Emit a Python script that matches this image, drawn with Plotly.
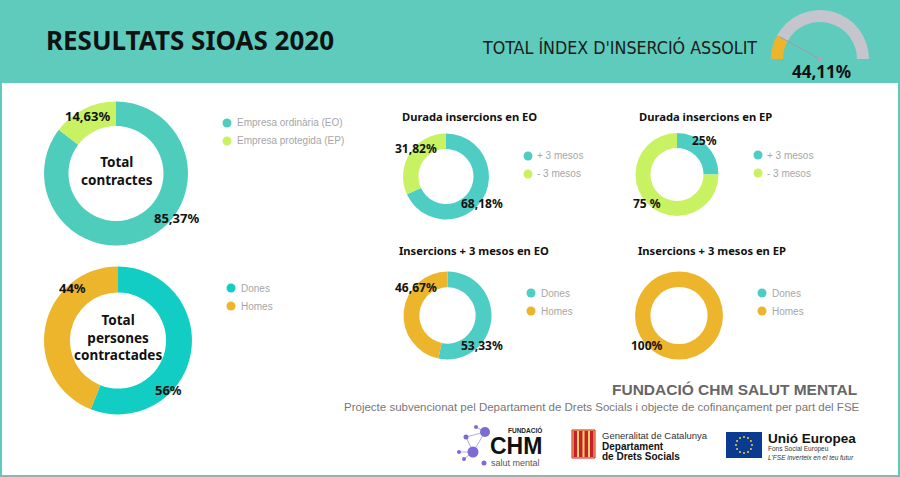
import math
import plotly.graph_objects as go

W, H = 900, 477

# ---- data read from the infographic ----
contract_labels = ["Empresa ordinària (EO)", "Empresa protegida (EP)"]
contract_values = [85.37, 14.63]

people_labels = ["Dones", "Homes"]
people_values = [56, 44]

dur_labels = ["+ 3 mesos", "- 3 mesos"]
dur_eo_values = [68.18, 31.82]
dur_ep_values = [25, 75]

ins_labels = ["Dones", "Homes"]
ins_eo_values = [53.33, 46.67]
ins_ep_values = [0, 100]

gauge_value = 44.11
gauge_max = 275

# ---- colours ----
HDR = "#5ECBBC"
EO_TEAL = "#4ECDBC"
LIME = "#C9F263"
CYAN = "#12CDC3"
GOLD = "#EDB52B"
TEAL2 = "#4ECDC4"
GAUGE_GREY = "#C5C5CE"
LEG_GREY = "#A6A6A6"

F_TXT = "Noto Sans"
F_ARIAL = "Liberation Sans"
F_NARROW = "DejaVu Sans Condensed, Roboto"


def px(x):
    return x / W


def py(y):
    return 1 - y / H


def pct(v, sep=""):
    if float(v).is_integer():
        s = str(int(v))
    else:
        s = f"{v:.2f}".replace(".", ",")
    return s + sep + "%"


def donut(labels, values, colors, cx, cy, r, hole):
    return go.Pie(
        labels=labels, values=values,
        marker=dict(colors=colors),
        hole=hole, sort=False, direction="clockwise", rotation=0,
        textinfo="none", hoverinfo="label+percent", showlegend=False,
        domain=dict(x=[px(cx - r), px(cx + r)], y=[py(cy + r), py(cy - r)]),
    )


annotations = []
shapes = []


def txt(x, y, text, size, color="#111111", weight="normal", xanchor="center",
        family=F_TXT, style="normal"):
    annotations.append(dict(
        x=px(x), y=py(y), xref="paper", yref="paper", text=text,
        showarrow=False, xanchor=xanchor, yanchor="middle",
        font=dict(family=family, size=size, color=color, weight=weight, style=style),
    ))


def legend(labels, colors, cx, cy, text_x):
    for i, (lab, col) in enumerate(zip(labels, colors)):
        y = cy + i * 18
        shapes.append(dict(type="circle", xref="paper", yref="paper",
                           x0=px(cx - 4.5), x1=px(cx + 4.5), y0=py(y + 4.5), y1=py(y - 4.5),
                           fillcolor=col, line=dict(width=0)))
        txt(text_x - 0.5, y, lab, 10, LEG_GREY, xanchor="left", family=F_ARIAL)


fig = go.Figure()

# ---- donuts ----
fig.add_trace(donut(contract_labels, contract_values, [EO_TEAL, LIME], 116, 173.5, 72, 0.66))
fig.add_trace(donut(people_labels, people_values, [CYAN, GOLD], 118, 340.5, 74, 0.65))
fig.add_trace(donut(dur_labels, dur_eo_values, [TEAL2, LIME], 446, 176.5, 43, 0.64))
fig.add_trace(donut(dur_labels, dur_ep_values, [TEAL2, LIME], 677, 174.5, 41.5, 0.64))
fig.add_trace(donut(ins_labels, ins_eo_values, [TEAL2, GOLD], 447.5, 315.5, 44, 0.64))
fig.add_trace(donut(ins_labels, ins_ep_values, [TEAL2, GOLD], 679, 315.5, 44, 0.65))

# gauge: upper half of a donut, lower half transparent
gcx, gcy, gr = 820, 59, 49
fig.add_trace(go.Pie(
    values=[gauge_value, gauge_max - gauge_value, gauge_max],
    labels=["assolit", "resta", ""],
    marker=dict(colors=[GOLD, GAUGE_GREY, "rgba(0,0,0,0)"]),
    hole=0.755, sort=False, direction="clockwise", rotation=-90,
    textinfo="none", hoverinfo="skip", showlegend=False,
    domain=dict(x=[px(gcx - gr), px(gcx + gr)], y=[py(gcy + gr), py(gcy - gr)]),
))

# ---- header ----
shapes.append(dict(type="rect", xref="paper", yref="paper", x0=0, x1=1, y0=py(83), y1=1,
                   fillcolor=HDR, line=dict(width=0), layer="below"))
txt(44, 40, "RESULTATS SIOAS 2020", 26, "#111111", "bold", "left")
txt(480, 47.5, "TOTAL ÍNDEX D'INSERCIÓ ASSOLIT", 17.7, "#1A1A1A", xanchor="left", family=F_NARROW)
txt(821, 71, pct(gauge_value), 17, "#111111", "bold")

ang = math.pi * (1 - gauge_value / gauge_max)
nx, ny = gcx + 46 * math.cos(ang), gcy - 46 * math.sin(ang)
shapes.append(dict(type="line", xref="paper", yref="paper", x0=px(gcx), y0=py(gcy),
                   x1=px(nx), y1=py(ny), line=dict(color="#9C9CAA", width=1)))
shapes.append(dict(type="circle", xref="paper", yref="paper", x0=px(gcx - 2.5), x1=px(gcx + 2.5),
                   y0=py(gcy + 2.5), y1=py(gcy - 2.5), fillcolor="#A8A8B4", line=dict(width=0)))

# ---- donut texts ----
txt(117, 171, "Total<br>contractes", 13.5, weight="bold")
txt(176.5, 218, pct(contract_values[0]), 13, weight="bold")
txt(87, 116, pct(contract_values[1]), 13, weight="bold")
legend(contract_labels, [EO_TEAL, LIME], 227, 123, 235)

txt(118, 337, "Total<br>persones<br>contractades", 13.5, weight="bold")
txt(168, 390, pct(people_values[0]), 13, weight="bold")
txt(72, 288, pct(people_values[1]), 13, weight="bold")
legend(people_labels, [CYAN, GOLD], 231, 288, 239)

txt(400, 116, "Durada insercions en EO", 11.2, weight="bold", xanchor="left")
txt(482, 203, pct(dur_eo_values[0]), 12, weight="bold")
txt(416, 148, pct(dur_eo_values[1]), 12, weight="bold")
legend(dur_labels, [TEAL2, LIME], 528, 156, 535)

txt(637, 116, "Durada insercions en EP", 11.2, weight="bold", xanchor="left")
txt(704, 141, pct(dur_ep_values[0]), 12, weight="bold")
txt(647, 203, pct(dur_ep_values[1], " "), 12, weight="bold")
legend(dur_labels, [TEAL2, LIME], 758, 155, 765)

txt(397, 250, "Insercions + 3 mesos en EO", 11.2, weight="bold", xanchor="left")
txt(481.5, 345, pct(ins_eo_values[0]), 12, weight="bold")
txt(416, 287, pct(ins_eo_values[1]), 12, weight="bold")
legend(ins_labels, [TEAL2, GOLD], 531, 293, 539)

txt(636, 250, "Insercions + 3 mesos en EP", 11.2, weight="bold", xanchor="left")
txt(646.5, 345, pct(ins_ep_values[1]), 12, weight="bold")
legend(ins_labels, [TEAL2, GOLD], 762, 293, 770)

# ---- footer ----
txt(859, 389, "FUNDACIÓ CHM SALUT MENTAL", 15.5, "#666666", "bold", "right", F_ARIAL)
txt(862, 407, "Projecte subvencionat pel Departament de Drets Socials i objecte de cofinançament per part del FSE",
    11.5, "#777777", xanchor="right", family=F_ARIAL)

# CHM logo
dots = [(485, 432, 5), (473, 452, 5.5), (466, 437, 2.5), (459, 452, 2), (476, 427, 2),
        (464, 459, 2), (484, 463, 2.5)]
for (ax, ay), (bx, by) in [((485, 432), (473, 452)), ((466, 437), (473, 452)), ((459, 452), (473, 452)),
                           ((476, 427), (485, 432)), ((464, 459), (473, 452)), ((466, 437), (485, 432))]:
    shapes.append(dict(type="line", xref="paper", yref="paper", x0=px(ax), y0=py(ay), x1=px(bx), y1=py(by),
                       line=dict(color="#B4ACE2", width=1)))
for dx, dy, dr in dots:
    shapes.append(dict(type="circle", xref="paper", yref="paper", x0=px(dx - dr), x1=px(dx + dr),
                       y0=py(dy + dr), y1=py(dy - dr), fillcolor="#7A6CD4", line=dict(width=0)))
txt(525, 430, "FUNDACIÓ", 6.5, "#222222", "bold", family=F_ARIAL)
txt(516, 446, "CHM", 23, "#111111", "bold", family=F_ARIAL)
txt(515, 463, "salut mental", 9, "#555555", family=F_ARIAL)

# Generalitat logo
shapes.append(dict(type="rect", xref="paper", yref="paper", x0=px(572), x1=px(595), y0=py(458), y1=py(430),
                   fillcolor="#F3D36E", line=dict(color="#C8202A", width=1)))
for i in range(4):
    x0 = 573.5 + i * 5.5
    shapes.append(dict(type="rect", xref="paper", yref="paper", x0=px(x0), x1=px(x0 + 3.5),
                       y0=py(457), y1=py(431), fillcolor="#C8202A", line=dict(width=0)))
txt(600, 435, "Generalitat de Catalunya", 9.5, "#333333", xanchor="left", family=F_ARIAL)
txt(600, 446, "Departament", 10, "#111111", "bold", "left", F_ARIAL)
txt(600, 456, "de Drets Socials", 10, "#111111", "bold", "left", F_ARIAL)

# EU logo
shapes.append(dict(type="rect", xref="paper", yref="paper", x0=px(726), x1=px(762), y0=py(458), y1=py(432),
                   fillcolor="#0B3A93", line=dict(width=0)))
for k in range(12):
    a = 2 * math.pi * k / 12
    sx, sy = 744 + 8 * math.cos(a), 445 + 8 * math.sin(a)
    shapes.append(dict(type="circle", xref="paper", yref="paper", x0=px(sx - 1), x1=px(sx + 1),
                       y0=py(sy + 1), y1=py(sy - 1), fillcolor="#F5D327", line=dict(width=0)))
txt(766, 438, "Unió Europea", 13.5, "#111111", "bold", "left", F_ARIAL)
txt(766, 449, "Fons Social Europeu", 6.5, "#333333", xanchor="left", family=F_ARIAL)
txt(766, 457, "L'FSE inverteix en el teu futur", 6.5, "#333333", xanchor="left", family=F_ARIAL, style="italic")

# frame
shapes.append(dict(type="rect", xref="paper", yref="paper", x0=0, x1=1, y0=0, y1=1,
                   fillcolor="rgba(0,0,0,0)", line=dict(color=HDR, width=4)))

fig.update_layout(
    width=W, height=H,
    margin=dict(l=0, r=0, t=0, b=0),
    paper_bgcolor="white", plot_bgcolor="white",
    shapes=shapes, annotations=annotations,
    showlegend=False,
)

# page body margin would push the 900x477 figure off the window
fig.write_html("out.html", config={"displayModeBar": False},
               post_script="document.body.style.margin='0';")
